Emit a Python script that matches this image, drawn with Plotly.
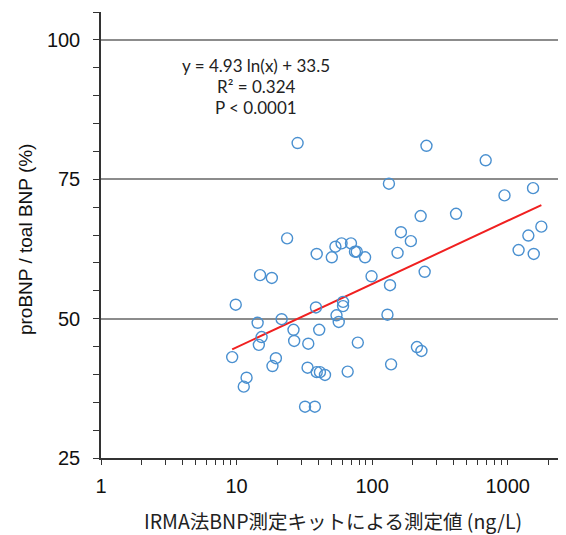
import numpy as np
import plotly.graph_objects as go

# IRMA BNP (ng/L)
bnp_irma = [28.2, 251.6, 688, 133, 1538, 947, 416, 228, 1771, 163, 1420, 193, 23.6, 53.6, 59.5,
            69.8, 74.7, 77, 39.0, 50.4, 88.7, 154, 1203, 1556, 244, 14.9, 18.2, 99, 135.5, 9.86,
            38.5, 61.0, 61.0, 54.6, 129.7, 21.5, 14.3, 56.7, 26.3, 40.7, 15.3, 26.6, 14.6, 33.8,
            78.4, 214, 231, 9.28, 19.5, 18.4, 138, 33.4, 39.0, 41.2, 44.9, 66.0, 11.85, 11.3,
            32.0, 37.8]
# proBNP / total BNP (%)
probnp_ratio = [81.5, 81.0, 78.4, 74.2, 73.4, 72.1, 68.8, 68.4, 66.5, 65.5, 64.9, 63.9, 64.4, 62.9,
                63.5, 63.5, 62.0, 62.0, 61.6, 61.0, 61.0, 61.8, 62.3, 61.6, 58.4, 57.8, 57.3, 57.6,
                56.0, 52.5, 52.0, 53.0, 52.25, 50.6, 50.7, 49.9, 49.25, 49.4, 48.0, 48.0, 46.7,
                46.0, 45.3, 45.5, 45.7, 44.9, 44.2, 43.1, 42.9, 41.5, 41.8, 41.2, 40.4, 40.4, 39.9,
                40.5, 39.4, 37.8, 34.2, 34.2]

fit_slope = 4.93
fit_intercept = 33.5
stats_lines = ["y = 4.93 ln(x) + 33.5", "R² = 0.324", "P < 0.0001"]

x_tick_vals = [1, 10, 100, 1000]
x_tick_text = ["1", "10", "100", "1000"]
y_tick_vals = [25, 50, 75, 100]
y_tick_text = ["25", "50", "75", "100"]

x_title = "IRMA法BNP測定キットによる測定値 (ng/L)"
y_title = "proBNP / toal BNP (%)"

fit_x = np.geomspace(min(bnp_irma), max(bnp_irma), 100)
fit_y = fit_slope * np.log(fit_x) + fit_intercept

fig = go.Figure()
fig.add_trace(go.Scatter(
    x=fit_x, y=fit_y, mode="lines",
    line=dict(color="#f02020", width=2), showlegend=False, hoverinfo="skip"))
fig.add_trace(go.Scatter(
    x=bnp_irma, y=probnp_ratio, mode="markers",
    marker=dict(symbol="circle-open", size=11, color="#4a90d0", line=dict(width=1.4)),
    showlegend=False))

ann_y = [0.881, 0.832, 0.785]
for txt, yy in zip(stats_lines, ann_y):
    fig.add_annotation(text=txt, xref="paper", yref="paper", x=0.333, y=yy,
                       showarrow=False, xanchor="center", yanchor="middle",
                       font=dict(family="Lato", size=17, color="#222"))

# axis titles
fig.add_annotation(text=x_title, xref="paper", yref="paper", x=0.499, y=-0.1405,
                   showarrow=False, xanchor="center", yanchor="middle", borderpad=0,
                   font=dict(family="Noto Sans CJK JP", size=19.5, color="#222"))
fig.add_annotation(text=y_title, xref="paper", yref="paper", x=-0.161, y=0.489,
                   showarrow=False, xanchor="center", yanchor="middle", textangle=-90,
                   font=dict(family="Liberation Sans", size=19, color="#111"))

fig.update_layout(
    width=558, height=527,
    margin=dict(l=93, r=0, t=4, b=77),
    paper_bgcolor="white", plot_bgcolor="white",
    font=dict(family="Liberation Sans", color="#111"),
)
fig.update_xaxes(
    type="log", range=[0, 3.43], automargin=False,
    tickvals=x_tick_vals, ticktext=x_tick_text,
    ticks="outside", ticklen=5, tickwidth=1.2, tickcolor="#333",
    minor=dict(ticks="outside", ticklen=5, tickwidth=1.2, tickcolor="#333", dtick="D1", showgrid=False),
    showgrid=False, showline=True, linecolor="#333", linewidth=1.5,
    tickfont=dict(size=20, family="Liberation Sans"),
    ticklabelstandoff=4,
    zeroline=False,
)
fig.update_yaxes(
    range=[25, 105], automargin=False,
    tickvals=y_tick_vals, ticktext=y_tick_text,
    ticks="outside", ticklen=6, tickwidth=1.2, tickcolor="#333",
    minor=dict(ticks="outside", ticklen=6, tickwidth=1.2, tickcolor="#333", dtick=5, tick0=25, showgrid=False),
    showgrid=True, gridcolor="#8c8c8c", gridwidth=2,
    showline=True, linecolor="#333", linewidth=1.5,
    tickfont=dict(size=20, family="Liberation Sans"),
    ticklabelstandoff=9,
    zeroline=False,
)

fig.write_html("out.html")
